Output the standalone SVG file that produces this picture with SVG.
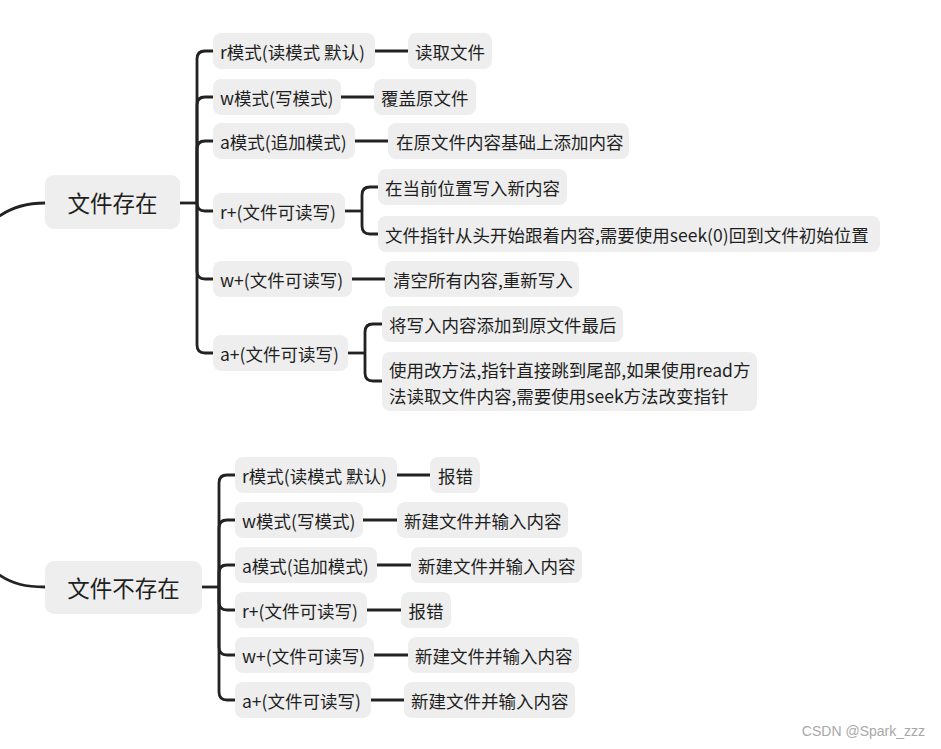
<svg xmlns="http://www.w3.org/2000/svg" width="941" height="749" viewBox="0 0 941 749">
<style>
  .bg{fill:#ffffff}
  .box{fill:#eeeeee}
  .t{font-family:"Noto Sans CJK SC","Microsoft YaHei",sans-serif;font-size:17.5px;fill:#1f1f1f;dominant-baseline:central}
  .tm{font-family:"Noto Sans CJK SC","Microsoft YaHei",sans-serif;font-size:22.5px;fill:#1f1f1f;dominant-baseline:central;text-anchor:middle}
  .c{fill:none;stroke:#222222;stroke-width:2.8;stroke-linecap:butt}
  .wm{font-family:"Liberation Sans",Arial,sans-serif;font-size:14px;fill:#a8a8a8;text-anchor:end}
</style>
<rect class="bg" x="0" y="0" width="941" height="749"/>

<g id="connectors">
  <path class="c" d="M-2,217 C12,207 26,203 45,203"/>
  <path class="c" d="M-2,574 C12,584 26,587 45,587"/>
  <path class="c" d="M180,203 H197"/>
  <path class="c" d="M197,203 V59 Q197,51 205,51 H213"/>
  <path class="c" d="M197,203 V105 Q197,97 205,97 H213"/>
  <path class="c" d="M197,203 V149 Q197,141 205,141 H213"/>
  <path class="c" d="M197,203 Q197,211 205,211 H213"/>
  <path class="c" d="M197,203 V271 Q197,279 205,279 H213"/>
  <path class="c" d="M197,203 V345 Q197,353 205,353 H213"/>
  <path class="c" d="M375,51 H408"/>
  <path class="c" d="M341,97 H374"/>
  <path class="c" d="M355,141 H388"/>
  <path class="c" d="M345,211 H362"/>
  <path class="c" d="M362,211 V195 Q362,187 370,187 H378"/>
  <path class="c" d="M362,211 V226 Q362,234 370,234 H378"/>
  <path class="c" d="M352,279 H385"/>
  <path class="c" d="M348,353 H365"/>
  <path class="c" d="M365,353 V332 Q365,324 373,324 H382"/>
  <path class="c" d="M365,353 V373 Q365,381 373,381 H382"/>
  <path class="c" d="M202,587 H219"/>
  <path class="c" d="M219,587 V483 Q219,475 227,475 H235"/>
  <path class="c" d="M219,587 V528 Q219,520 227,520 H235"/>
  <path class="c" d="M219,587 V573 Q219,565 227,565 H235"/>
  <path class="c" d="M219,587 V602 Q219,610 227,610 H235"/>
  <path class="c" d="M219,587 V647 Q219,655 227,655 H235"/>
  <path class="c" d="M219,587 V692 Q219,700 227,700 H235"/>
  <path class="c" d="M397,475 H430"/>
  <path class="c" d="M363,520 H397"/>
  <path class="c" d="M377,565 H411"/>
  <path class="c" d="M367,610 H401"/>
  <path class="c" d="M374,655 H408"/>
  <path class="c" d="M371,700 H404"/>
</g>

<g id="n-exist">
  <rect class="box" x="45" y="175" width="135" height="54" rx="9"/>
  <text class="tm" x="112.5" y="202">文件存在</text>
</g>
<g id="n-notexist">
  <rect class="box" x="45" y="561" width="157" height="53" rx="9"/>
  <text class="tm" x="123.5" y="587">文件不存在</text>
</g>

<g id="e-r">
  <rect class="box" x="213" y="33" width="162" height="36" rx="8"/>
  <text class="t" x="220" y="51">r模式(读模式 默认)</text>
</g>
<g id="e-r-1">
  <rect class="box" x="408" y="33" width="84" height="36" rx="8"/>
  <text class="t" x="415" y="51">读取文件</text>
</g>
<g id="e-w">
  <rect class="box" x="213" y="79" width="128" height="36" rx="8"/>
  <text class="t" x="220" y="97">w模式(写模式)</text>
</g>
<g id="e-w-1">
  <rect class="box" x="374" y="79" width="102" height="36" rx="8"/>
  <text class="t" x="381" y="97">覆盖原文件</text>
</g>
<g id="e-a">
  <rect class="box" x="213" y="123" width="142" height="36" rx="8"/>
  <text class="t" x="220" y="141">a模式(追加模式)</text>
</g>
<g id="e-a-1">
  <rect class="box" x="388" y="123" width="241" height="36" rx="8"/>
  <text class="t" x="396" y="141">在原文件内容基础上添加内容</text>
</g>
<g id="e-rp">
  <rect class="box" x="213" y="193" width="132" height="36" rx="8"/>
  <text class="t" x="220" y="211">r+(文件可读写)</text>
</g>
<g id="e-rp-1">
  <rect class="box" x="378" y="169" width="189" height="36" rx="8"/>
  <text class="t" x="385" y="187">在当前位置写入新内容</text>
</g>
<g id="e-rp-2">
  <rect class="box" x="378" y="216" width="502" height="36" rx="8"/>
  <text class="t" x="385" y="234">文件指针从头开始跟着内容,需要使用seek(0)回到文件初始位置</text>
</g>
<g id="e-wp">
  <rect class="box" x="213" y="261" width="139" height="36" rx="8"/>
  <text class="t" x="220" y="279">w+(文件可读写)</text>
</g>
<g id="e-wp-1">
  <rect class="box" x="385" y="261" width="194" height="36" rx="8"/>
  <text class="t" x="393" y="279">清空所有内容,重新写入</text>
</g>
<g id="e-ap">
  <rect class="box" x="213" y="335" width="135" height="36" rx="8"/>
  <text class="t" x="220" y="353">a+(文件可读写)</text>
</g>
<g id="e-ap-1">
  <rect class="box" x="382" y="306" width="241" height="36" rx="8"/>
  <text class="t" x="389" y="324">将写入内容添加到原文件最后</text>
</g>
<g id="e-ap-2">
  <rect class="box" x="382" y="352" width="375" height="59" rx="8"/>
  <text class="t"><tspan x="389" y="368.5">使用改方法,指针直接跳到尾部,如果使用read方</tspan><tspan x="389" y="394.5">法读取文件内容,需要使用seek方法改变指针</tspan></text>
</g>

<g id="n-r">
  <rect class="box" x="235" y="457" width="162" height="36" rx="8"/>
  <text class="t" x="242" y="475">r模式(读模式 默认)</text>
</g>
<g id="n-r-1">
  <rect class="box" x="430" y="457" width="50" height="36" rx="8"/>
  <text class="t" x="438" y="475">报错</text>
</g>
<g id="n-w">
  <rect class="box" x="235" y="502" width="128" height="36" rx="8"/>
  <text class="t" x="242" y="520">w模式(写模式)</text>
</g>
<g id="n-w-1">
  <rect class="box" x="397" y="502" width="171" height="36" rx="8"/>
  <text class="t" x="404" y="520">新建文件并输入内容</text>
</g>
<g id="n-a">
  <rect class="box" x="235" y="547" width="142" height="36" rx="8"/>
  <text class="t" x="242" y="565">a模式(追加模式)</text>
</g>
<g id="n-a-1">
  <rect class="box" x="411" y="547" width="171" height="36" rx="8"/>
  <text class="t" x="418" y="565">新建文件并输入内容</text>
</g>
<g id="n-rp">
  <rect class="box" x="235" y="592" width="132" height="36" rx="8"/>
  <text class="t" x="242" y="610">r+(文件可读写)</text>
</g>
<g id="n-rp-1">
  <rect class="box" x="401" y="592" width="50" height="36" rx="8"/>
  <text class="t" x="408.5" y="610">报错</text>
</g>
<g id="n-wp">
  <rect class="box" x="235" y="637" width="139" height="36" rx="8"/>
  <text class="t" x="242" y="655">w+(文件可读写)</text>
</g>
<g id="n-wp-1">
  <rect class="box" x="408" y="637" width="171" height="36" rx="8"/>
  <text class="t" x="415" y="655">新建文件并输入内容</text>
</g>
<g id="n-ap">
  <rect class="box" x="235" y="682" width="136" height="36" rx="8"/>
  <text class="t" x="242" y="700">a+(文件可读写)</text>
</g>
<g id="n-ap-1">
  <rect class="box" x="404" y="682" width="171" height="36" rx="8"/>
  <text class="t" x="411" y="700">新建文件并输入内容</text>
</g>

<text class="wm" x="925" y="736">CSDN @Spark_zzz</text>
</svg>
